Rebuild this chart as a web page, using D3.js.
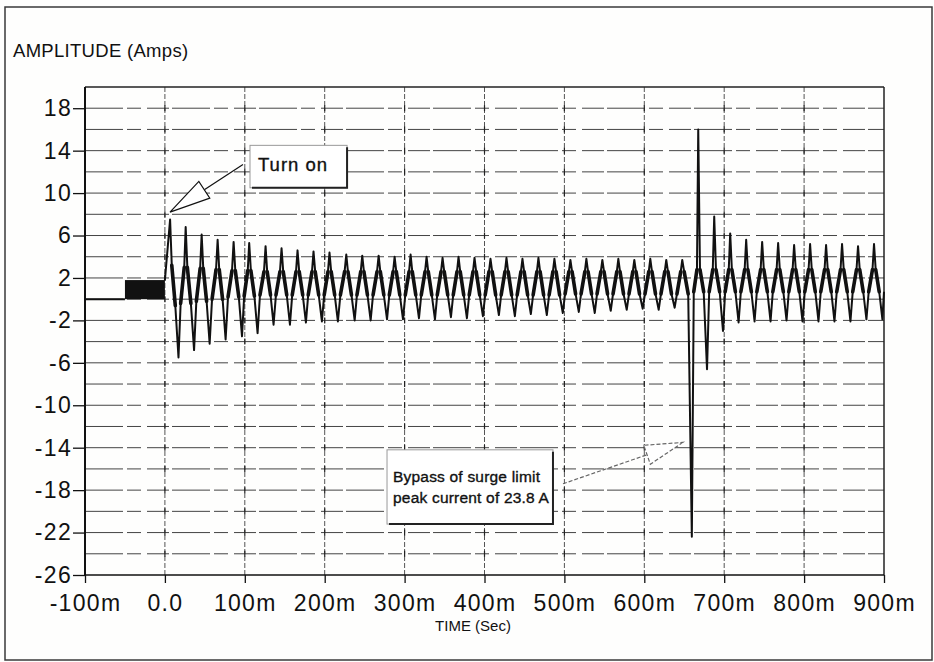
<!DOCTYPE html>
<html><head><meta charset="utf-8">
<script src="https://cdn.jsdelivr.net/npm/d3@7"></script>
<style>
html,body{margin:0;padding:0;background:#fff;}
svg{display:block;font-family:"Liberation Sans",Arial,Helvetica,sans-serif;}
</style></head><body>
<svg id="chart" width="934" height="662"></svg>
<script>
// ---------------- data ----------------
const xTickValues = [-100, 0, 100, 200, 300, 400, 500, 600, 700, 800, 900];           // ms
const xTickLabels = ["-100m", "0.0", "100m", "200m", "300m", "400m", "500m", "600m", "700m", "800m", "900m"];
const yTickValues = [18, 14, 10, 6, 2, -2, -6, -10, -14, -18, -22, -26];
const yTickLabels = ["18", "14", "10", "6", "2", "-2", "-6", "-10", "-14", "-18", "-22", "-26"];
const yGridValues = [-24, -22, -20, -18, -16, -14, -12, -10, -8, -6, -4, -2, 0, 2, 4, 6, 8, 10, 12, 14, 16, 18];
const xGridValues = [0, 100, 200, 300, 400, 500, 600, 700, 800];

// before turn-on: flat trace, then ripple band
const offTimes = [-100, -50];
const offValues = [0, 0];
const rippleTimes = [-50, 0];
const rippleRange = [0, 1.8];
const startValue = 1.8;

// cycle peaks / troughs (ms, A)
const peakTimes = [6.5, 26, 46, 66, 86, 105.5, 126, 146, 166, 186, 206, 227, 247, 267.5, 287.5, 307.5, 327.5, 347.5, 367.5, 387.5, 407.5, 427.5, 447.5, 467.5, 487.5, 507.5, 527.5, 547.5, 567.5, 587.5, 607.5, 627.5, 647.5, 667.5, 687.5, 707.5, 727.5, 747.5, 767.5, 787.5, 807.5, 827.5, 847.5, 867.5, 887.5];
const peakValues = [7.5, 6.8, 6.1, 5.6, 5.4, 5.3, 5.0, 4.8, 4.6, 4.5, 4.4, 4.2, 4.1, 4.1, 4.0, 4.2, 4.0, 3.9, 4.0, 3.9, 3.8, 3.9, 3.8, 3.9, 3.8, 3.7, 3.8, 3.7, 3.8, 3.7, 3.8, 3.7, 3.7, 16.0, 7.8, 6.2, 5.6, 5.4, 5.3, 5.1, 5.2, 5.1, 5.2, 5.0, 5.2];
const troughTimes = [17, 36.5, 56, 76, 96.5, 116, 136, 156.5, 176.5, 196.5, 216.5, 237.5, 257.5, 278, 298, 318, 338, 358, 378, 398, 418, 438, 458, 478, 498, 518, 538, 558, 578, 598, 618, 638, 659.5, 678.5, 698.5, 718, 738, 758, 778, 798, 818, 838, 858, 878, 898];
const troughValues = [-5.5, -4.8, -4.2, -3.8, -3.5, -3.2, -2.4, -2.4, -2.2, -2.1, -2.1, -2.0, -2.0, -1.9, -1.9, -1.8, -1.9, -1.7, -1.8, -1.6, -1.5, -1.6, -1.4, -1.5, -1.3, -1.2, -1.3, -1.1, -1.0, -0.9, -1.0, -0.8, -22.4, -6.6, -3.0, -2.2, -2.1, -2.1, -2.0, -2.1, -2.1, -2.1, -2.1, -1.9, -1.9];
const upperShoulder = [3.2, 3.0, 2.9, 2.8, 2.7, 2.7, 2.6, 2.6, 2.6, 2.6, 2.6, 2.6, 2.6, 2.6, 2.6, 2.6, 2.6, 2.6, 2.6, 2.6, 2.6, 2.6, 2.6, 2.6, 2.6, 2.6, 2.6, 2.6, 2.6, 2.6, 2.6, 2.6, 2.6, 2.8, 2.8, 2.8, 2.8, 2.8, 2.8, 2.8, 2.8, 2.8, 2.8, 2.8, 2.8];
const lowerShoulder = [-0.6, -0.4, -0.2, 0.0, 0.2, 0.3, 0.4, 0.4, 0.4, 0.4, 0.4, 0.4, 0.4, 0.4, 0.4, 0.4, 0.4, 0.4, 0.4, 0.4, 0.4, 0.4, 0.4, 0.4, 0.4, 0.5, 0.5, 0.5, 0.5, 0.5, 0.5, 0.5, 0.5, 0.7, 0.7, 0.7, 0.7, 0.7, 0.7, 0.7, 0.7, 0.7, 0.7, 0.7, 0.7];

// annotations (data units)
const turnOnText = ["Turn on"];
const turnOnBox = [106.5, 228, 14.5, 10.5];   // t0, t1, vTop, vBottom
const turnOnTip = [6.4, 8.2];
const turnOnTail = [97.7, 12.7];
const bypassText = ["Bypass of surge limit", "peak current of 23.8 A"];
const bypassBox = [278, 485.7, -14.2, -21.2];
const bypassTail = [498.2, -17.4];
const bypassTip = [648.4, -13.5];

// ---------------- chart ----------------
const svg = d3.select("#chart");
const W = 934, H = 662;
const L = 85, R = 884, T = 87, B = 575;

svg.append("rect").attr("width", W).attr("height", H).attr("fill", "#fefefd");
svg.append("rect").attr("x", 5).attr("y", 7).attr("width", 927).attr("height", 653)
  .attr("fill", "none").attr("stroke", "#3a3a3a").attr("stroke-width", 1.5);

const x = d3.scaleLinear().domain([-100, 900]).range([L, R]);
const y = d3.scaleLinear().domain([-26, 20]).range([B, T]);

// grid
const grid = svg.append("g");
grid.selectAll("line.h").data(yGridValues).join("line").attr("class", "h")
  .attr("x1", L).attr("x2", R).attr("y1", d => y(d)).attr("y2", d => y(d))
  .attr("stroke", "#444").attr("stroke-width", 1).attr("stroke-dasharray", "38,4,14,6,22,3");
grid.selectAll("line.v").data(xGridValues).join("line").attr("class", "v")
  .attr("x1", d => x(d)).attr("x2", d => x(d)).attr("y1", T).attr("y2", B)
  .attr("stroke", "#555").attr("stroke-width", 1).attr("stroke-dasharray", "5,2");
xGridValues.forEach(xv => {
  grid.selectAll(null).data(yGridValues).join("line")
    .attr("x1", x(xv)).attr("x2", x(xv)).attr("y1", d => y(d) - 3).attr("y2", d => y(d) + 3)
    .attr("stroke", "#222").attr("stroke-width", 1.2);
});

svg.append("line").attr("x1", L).attr("x2", R).attr("y1", T).attr("y2", T).attr("stroke", "#222").attr("stroke-width", 1.3);
svg.append("line").attr("x1", R).attr("x2", R).attr("y1", T).attr("y2", B).attr("stroke", "#222").attr("stroke-width", 1.5);

// axes
const fontTick = 23;
const yAxis = d3.axisLeft(y).tickValues(yTickValues).tickFormat((d, i) => yTickLabels[i]).tickSize(12).tickPadding(1);
const gy = svg.append("g").attr("transform", `translate(${L},0)`).call(yAxis);
gy.select(".domain").attr("stroke", "#111").attr("stroke-width", 2).attr("d", `M0,${T}V${B}`);
gy.selectAll(".tick line").attr("stroke", "#111").attr("stroke-width", 1.3);
gy.selectAll(".tick text").attr("font-size", fontTick).attr("fill", "#111")
  .attr("font-family", '"Liberation Sans",Arial,sans-serif').style("letter-spacing", "1.3px");

const xAxis = d3.axisBottom(x).tickValues(xTickValues).tickFormat((d, i) => xTickLabels[i]).tickSize(8).tickPadding(12);
const gx = svg.append("g").attr("transform", `translate(0,${B})`).call(xAxis);
gx.select(".domain").attr("stroke", "#111").attr("stroke-width", 1.6).attr("d", `M${L},0H${R}`);
gx.selectAll(".tick line").attr("stroke", "#111").attr("stroke-width", 1.3);
gx.selectAll(".tick text").attr("font-size", fontTick).attr("fill", "#111")
  .attr("font-family", '"Liberation Sans",Arial,sans-serif').style("letter-spacing", "1.3px");

svg.append("text").attr("x", 13).attr("y", 57).attr("font-size", 18.5).attr("fill", "#111")
  .style("letter-spacing", "0.3px").text("AMPLITUDE (Amps)");
svg.append("text").attr("x", 473).attr("y", 631).attr("text-anchor", "middle").attr("font-size", 15).attr("fill", "#111")
  .text("TIME (Sec)");

// ---------------- trace ----------------
const line = d3.line().x(d => x(d[0])).y(d => y(d[1])).curve(d3.curveLinear);

svg.append("path").datum(offTimes.map((t, i) => [t, offValues[i]]))
  .attr("d", line).attr("fill", "none").attr("stroke", "#111").attr("stroke-width", 2);
svg.append("rect").attr("x", x(rippleTimes[0])).attr("width", x(rippleTimes[1]) - x(rippleTimes[0]))
  .attr("y", y(rippleRange[1])).attr("height", y(rippleRange[0]) - y(rippleRange[1])).attr("fill", "#111");

const pts = [[rippleTimes[1], startValue]];
const bandSegs = [];
for (let k = 0; k < peakTimes.length; k++) {
  const tp = peakTimes[k], tt = troughTimes[k];
  const U = upperShoulder[k], Lo = lowerShoulder[k];
  const df = tt - tp;
  const a = [tp + 0.2 * df, U], b = [tp + 0.62 * df, Lo];
  pts.push([tp, peakValues[k]], a, b, [tt, troughValues[k]]);
  bandSegs.push([a, b]);
  if (k < peakTimes.length - 1) {
    const tn = peakTimes[k + 1], dr = tn - tt;
    const c = [tt + 0.3 * dr, lowerShoulder[k + 1]], d = [tt + 0.8 * dr, upperShoulder[k + 1]];
    pts.push(c, d);
    bandSegs.push([c, d]);
  } else {
    pts.push([900, lowerShoulder[k]]);
  }
}
svg.append("path").datum(pts).attr("d", line).attr("fill", "none")
  .attr("stroke", "#111").attr("stroke-width", 2).attr("stroke-linejoin", "round");
svg.append("g").selectAll("path").data(bandSegs).join("path").attr("d", line)
  .attr("fill", "none").attr("stroke", "#111").attr("stroke-width", 3.6).attr("stroke-linecap", "round");

// ---------------- annotations ----------------
function arrow(tail, tip, headLen, headHalf, stroke, dash) {
  const [x0, y0] = [x(tail[0]), y(tail[1])];
  const [x1, y1] = [x(tip[0]), y(tip[1])];
  const dx = x1 - x0, dy = y1 - y0, len = Math.hypot(dx, dy);
  const ux = dx / len, uy = dy / len, px = -uy, py = ux;
  const bx = x1 - ux * headLen, by = y1 - uy * headLen;
  const g = svg.append("g");
  g.append("line").attr("x1", x0).attr("y1", y0).attr("x2", bx).attr("y2", by)
    .attr("stroke", stroke).attr("stroke-width", 1.2).attr("stroke-dasharray", dash);
  g.append("path").attr("d", `M${x1},${y1}L${bx + px * headHalf},${by + py * headHalf}L${bx - px * headHalf},${by - py * headHalf}Z`)
    .attr("fill", "#fff").attr("stroke", stroke).attr("stroke-width", 1.2).attr("stroke-dasharray", dash);
}
function box(b, lines, fs, lh, padX, base0, ls) {
  const bx0 = x(b[0]), bx1 = x(b[1]), by0 = y(b[2]), by1 = y(b[3]);
  const g = svg.append("g");
  g.append("rect").attr("x", bx0).attr("y", by0).attr("width", bx1 - bx0).attr("height", by1 - by0)
    .attr("fill", "#fff").attr("stroke", "#999").attr("stroke-width", 1);
  g.append("path").attr("d", `M${bx1},${by0 + 2}V${by1}H${bx0 + 2}`).attr("fill", "none")
    .attr("stroke", "#222").attr("stroke-width", 2);
  lines.forEach((s, i) => {
    g.append("text").attr("x", bx0 + padX).attr("y", by0 + base0 + i * lh).attr("font-size", fs)
      .attr("fill", "#111").attr("stroke", "#111").attr("stroke-width", 0.35)
      .style("letter-spacing", ls).text(s);
  });
}
box(turnOnBox, turnOnText, 18.5, 20, 8, 26, "1px");
arrow(turnOnTail, turnOnTip, 41, 10, "#111", null);
box(bypassBox, bypassText, 15.5, 21, 6, 32, "0.2px");
arrow(bypassTail, bypassTip, 38, 10, "#666", "4,2");
</script>
</body></html>
